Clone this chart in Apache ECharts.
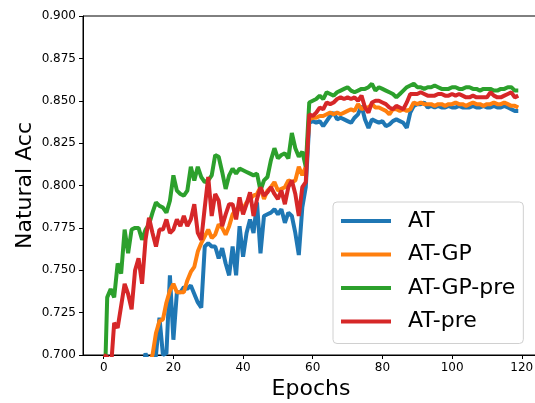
<!DOCTYPE html>
<html>
<head>
<meta charset="utf-8">
<script src="https://cdn.jsdelivr.net/npm/echarts@6/dist/echarts.min.js"></script>
<style>
  html, body { margin: 0; padding: 0; background: #fff; }
  #chart { width: 535px; height: 403px; }
</style>
</head>
<body>
<div id="chart"></div>
<script>
// epochs 0..119
const epochs = Array.from({ length: 120 }, (_, i) => i);

const xTicks = [0, 20, 40, 60, 80, 100, 120];

const atAcc = [
  0.560, 0.600, 0.620, 0.635, 0.645, 0.650, 0.660, 0.665, 0.670, 0.675,
  0.680, 0.685, 0.701, 0.695, 0.690, 0.700, 0.722, 0.700, 0.701, 0.747,
  0.709, 0.737, 0.737, 0.740, 0.739, 0.741, 0.736, 0.731, 0.728, 0.764,
  0.766, 0.764, 0.764, 0.757, 0.763, 0.754, 0.747, 0.764, 0.747, 0.776,
  0.758, 0.772, 0.780, 0.772, 0.790, 0.760, 0.782, 0.783, 0.784, 0.786,
  0.783, 0.786, 0.778, 0.784, 0.782, 0.772, 0.759, 0.787, 0.799, 0.837,
  0.838, 0.837, 0.838, 0.835, 0.838, 0.841, 0.843, 0.839, 0.840, 0.839,
  0.838, 0.837, 0.840, 0.842, 0.847, 0.839, 0.834, 0.839, 0.838, 0.837,
  0.838, 0.835, 0.836, 0.838, 0.839, 0.838, 0.837, 0.834, 0.843, 0.847,
  0.848, 0.848, 0.849, 0.846, 0.847, 0.846, 0.847, 0.846, 0.846, 0.847,
  0.846, 0.846, 0.847, 0.846, 0.846, 0.846, 0.847, 0.846, 0.846, 0.847,
  0.846, 0.846, 0.847, 0.846, 0.846, 0.847, 0.846, 0.845, 0.844, 0.844
];

const atGpAcc = [
  0.560, 0.590, 0.610, 0.625, 0.635, 0.645, 0.655, 0.660, 0.668, 0.674,
  0.680, 0.686, 0.690, 0.695, 0.700, 0.713, 0.720, 0.721, 0.731, 0.738,
  0.742, 0.737, 0.737, 0.737, 0.744, 0.749, 0.752, 0.761, 0.766, 0.770,
  0.774, 0.769, 0.771, 0.777, 0.775, 0.771, 0.776, 0.783, 0.786, 0.786,
  0.786, 0.790, 0.792, 0.794, 0.795, 0.799, 0.792, 0.797, 0.799, 0.802,
  0.797, 0.798, 0.799, 0.803, 0.802, 0.803, 0.811, 0.806, 0.811, 0.839,
  0.840, 0.840, 0.841, 0.841, 0.842, 0.843, 0.842, 0.843, 0.842, 0.843,
  0.844, 0.845, 0.844, 0.848, 0.845, 0.846, 0.846, 0.848, 0.846, 0.846,
  0.845, 0.844, 0.842, 0.845, 0.845, 0.844, 0.845, 0.844, 0.845, 0.849,
  0.848, 0.849, 0.848, 0.848, 0.848, 0.847, 0.848, 0.848, 0.847, 0.848,
  0.848, 0.849, 0.848, 0.848, 0.847, 0.848, 0.849, 0.848, 0.848, 0.847,
  0.848, 0.848, 0.849, 0.848, 0.848, 0.849, 0.848, 0.847, 0.847, 0.846
];

const atGpPreAcc = [
  0.660, 0.734, 0.739, 0.734, 0.754, 0.748, 0.774, 0.760, 0.774, 0.775,
  0.775, 0.768, 0.774, 0.777, 0.784, 0.790, 0.788, 0.787, 0.784, 0.791,
  0.806, 0.797, 0.795, 0.794, 0.797, 0.811, 0.803, 0.811, 0.805, 0.802,
  0.803, 0.806, 0.818, 0.817, 0.808, 0.798, 0.806, 0.810, 0.807, 0.810,
  0.809, 0.808, 0.807, 0.806, 0.807, 0.797, 0.803, 0.805, 0.815, 0.822,
  0.816, 0.818, 0.819, 0.816, 0.831, 0.822, 0.817, 0.820, 0.811, 0.849,
  0.850, 0.851, 0.853, 0.851, 0.855, 0.854, 0.853, 0.855, 0.856, 0.857,
  0.858, 0.856, 0.855, 0.856, 0.857, 0.857, 0.858, 0.860, 0.856, 0.858,
  0.857, 0.856, 0.855, 0.854, 0.852, 0.854, 0.856, 0.858, 0.859, 0.860,
  0.858, 0.858, 0.857, 0.858, 0.858, 0.859, 0.858, 0.857, 0.857, 0.857,
  0.858, 0.858, 0.857, 0.857, 0.858, 0.858, 0.857, 0.857, 0.856, 0.857,
  0.857, 0.857, 0.856, 0.856, 0.857, 0.857, 0.858, 0.858, 0.856, 0.856
];

const atPreAcc = [
  0.700, 0.699, 0.690, 0.719, 0.716, 0.729, 0.742, 0.736, 0.727, 0.750,
  0.757, 0.742, 0.768, 0.781, 0.772, 0.764, 0.774, 0.774, 0.780, 0.772,
  0.774, 0.780, 0.776, 0.782, 0.776, 0.780, 0.789, 0.772, 0.768, 0.787,
  0.805, 0.782, 0.795, 0.791, 0.776, 0.783, 0.789, 0.789, 0.780, 0.793,
  0.783, 0.789, 0.796, 0.782, 0.792, 0.799, 0.794, 0.796, 0.799, 0.795,
  0.792, 0.797, 0.789, 0.799, 0.803, 0.795, 0.782, 0.799, 0.802, 0.842,
  0.841, 0.843, 0.846, 0.845, 0.849, 0.848, 0.849, 0.851, 0.852, 0.851,
  0.852, 0.851, 0.852, 0.850, 0.853, 0.846, 0.843, 0.849, 0.850, 0.850,
  0.849, 0.848, 0.846, 0.845, 0.847, 0.846, 0.845, 0.849, 0.854, 0.854,
  0.854, 0.855, 0.854, 0.853, 0.853, 0.853, 0.854, 0.854, 0.853, 0.853,
  0.854, 0.853, 0.854, 0.853, 0.852, 0.852, 0.853, 0.852, 0.852, 0.852,
  0.852, 0.855, 0.853, 0.852, 0.852, 0.853, 0.854, 0.855, 0.852, 0.853
];

const seriesNames = ['AT', 'AT-GP', 'AT-GP-pre', 'AT-pre'];
const seriesColors = ['#1f77b4', '#ff7f0e', '#2ca02c', '#d62728'];
const seriesValues = [atAcc, atGpAcc, atGpPreAcc, atPreAcc];

const FONT = 'DejaVu Sans';

const chart = echarts.init(document.getElementById('chart'), null, { renderer: 'canvas' });

const option = {
  animation: false,
  backgroundColor: '#fff',
  grid: {
    left: 83,
    top: 16,
    width: 456,
    bottom: 48,
    outerBoundsMode: 'none',
    show: true,
    borderColor: '#000',
    borderWidth: 1,
    backgroundColor: 'transparent'
  },
  legend: {
    orient: 'vertical',
    left: 333,
    top: 202,
    data: seriesNames,
    icon: 'rect',
    itemWidth: 50,
    itemHeight: 4,
    itemGap: 11.5,
    padding: [8, 8, 11, 8],
    backgroundColor: '#fff',
    borderColor: '#d0d0d0',
    borderWidth: 1,
    borderRadius: 4,
    textStyle: {
      fontFamily: FONT,
      fontSize: 22,
      color: '#000',
      padding: [0, 0, 0, 12]
    }
  },
  xAxis: {
    type: 'value',
    min: -5.95,
    max: 124.95,
    name: 'Epochs',
    nameLocation: 'middle',
    nameGap: 23,
    nameMoveOverlap: false,
    nameTextStyle: { fontFamily: FONT, fontSize: 22, color: '#000' },
    axisLine: { show: true, onZero: false, lineStyle: { color: '#000', width: 1 } },
    axisTick: { show: true, length: 4, customValues: xTicks, lineStyle: { color: '#000' } },
    axisLabel: {
      customValues: xTicks,
      fontFamily: FONT,
      fontSize: 12,
      color: '#000',
      margin: 7
    },
    splitLine: { show: false }
  },
  yAxis: {
    type: 'value',
    min: 0.7,
    max: 0.9,
    interval: 0.025,
    name: 'Natural Acc',
    nameLocation: 'middle',
    nameGap: 47,
    nameMoveOverlap: false,
    nameTextStyle: { fontFamily: FONT, fontSize: 22, color: '#000' },
    axisLine: { show: true, onZero: false, lineStyle: { color: '#000', width: 1 } },
    axisTick: { show: true, length: 4, lineStyle: { color: '#000' } },
    axisLabel: {
      fontFamily: FONT,
      fontSize: 12,
      color: '#000',
      margin: 7,
      formatter: v => v.toFixed(3)
    },
    splitLine: { show: false }
  },
  series: seriesNames.map((name, k) => ({
    name: name,
    type: 'line',
    data: epochs.map((e, i) => [e, seriesValues[k][i]]),
    showSymbol: false,
    symbol: 'none',
    clip: true,
    color: seriesColors[k],
    lineStyle: { width: 4, color: seriesColors[k] }
  }))
};

chart.setOption(option);
</script>
</body>
</html>
